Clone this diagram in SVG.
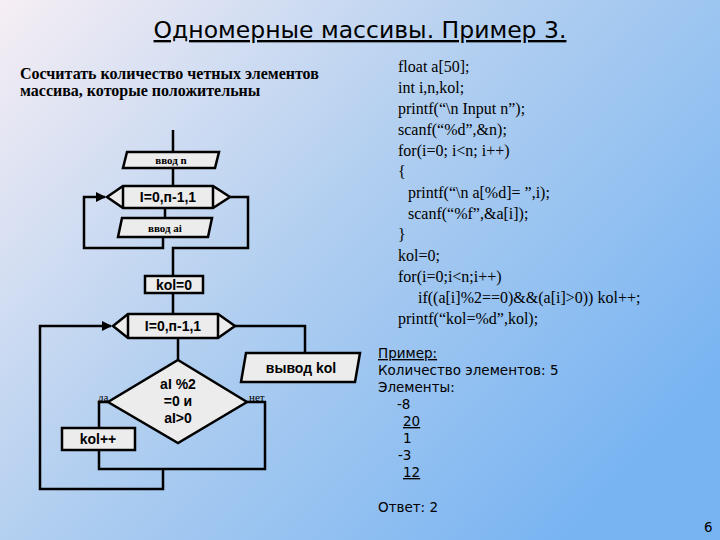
<svg xmlns="http://www.w3.org/2000/svg" width="720" height="540" viewBox="0 0 720 540">
<defs>
<linearGradient id="bg" x1="0" y1="0" x2="1" y2="0.7">
<stop offset="0" stop-color="#f6eef4"/>
<stop offset="0.5" stop-color="#b0cef0"/>
<stop offset="1" stop-color="#78b4f2"/>
</linearGradient>
<marker id="ar" viewBox="0 0 10 10" refX="9" refY="5" markerWidth="4" markerHeight="4" orient="auto"><path d="M0,0 L10,5 L0,10 z" fill="#000"/></marker>
<style>
.n{fill:#ececec;stroke:#000;stroke-width:2.5}
.c{fill:none;stroke:#000;stroke-width:2.5}
.t{font-family:"Liberation Sans",Arial,sans-serif;font-size:14px;font-weight:bold;text-anchor:middle}
.s{font-family:"Liberation Serif",serif;font-size:11px;font-weight:bold;text-anchor:middle}
.code{font-family:"Liberation Serif",serif;font-size:16px}
.ex{font-family:"DejaVu Sans",sans-serif;font-size:13.5px}
</style>
</defs>
<rect width="720" height="540" fill="url(#bg)"/>
<text x="360" y="38" text-anchor="middle" font-family="DejaVu Sans,sans-serif" font-size="23.5" text-decoration="underline">Одномерные массивы. Пример 3.</text>
<text x="20" y="79" font-family="Liberation Serif,serif" font-size="16" font-weight="bold">Сосчитать количество четных элементов</text>
<text x="20" y="96" font-family="Liberation Serif,serif" font-size="16" font-weight="bold">массива, которые положительны</text>
<g id="connectors">
<path class="c" d="M173,130 V152 M173,168 V186 M165,208 V218 M163,237 V248 H84 V197 H105" marker-end="url(#ar)"/>
<path class="c" d="M230,197 H248 V248 H173 V276 M173,293 V314"/>
<path class="c" d="M178,338 V360 M235,326 H305 V353"/>
<path class="c" d="M108,402 H99 V428 M99,450 V469 H265 V402 H247 M163,469 V489 H40 V326 H111" marker-end="url(#ar)"/>
</g>
<g id="input-n"><polygon class="n" points="127,152 219,152 215,168 123,168"/><text class="s" x="171" y="164">ввод  n</text></g>
<g id="loop1"><polygon class="n" points="107,197 123,186 213,186 230,197 213,208 123,208"/><path class="c" d="M123,186 V208 M213,186 V208"/><text class="t" x="168" y="202">I=0,п-1,1</text></g>
<g id="input-ai"><polygon class="n" points="122,218 212,218 208,237 118,237"/><text class="s" x="165" y="232">ввод ai</text></g>
<g id="kol0"><rect class="n" x="145" y="276" width="58" height="17"/><text class="t" x="174" y="290">kol=0</text></g>
<g id="loop2"><polygon class="n" points="113,326 128,314 218,314 235,326 218,338 128,338"/><path class="c" d="M128,314 V338 M218,314 V338"/><text class="t" x="173" y="331">I=0,п-1,1</text></g>
<g id="output"><polygon class="n" points="246,353 360,353 355,382 241,382"/><text class="t" x="301" y="373">вывод kol</text></g>
<g id="cond"><polygon class="n" points="178,360 247,402 178,443 108,402"/><text class="t" x="178" y="389">aI %2</text><text class="t" x="178" y="406">=0 и</text><text class="t" x="178" y="423">aI&gt;0</text></g>
<text x="98" y="401" font-family="Liberation Serif,serif" font-size="11">да</text>
<text x="249" y="401" font-family="Liberation Serif,serif" font-size="11">нет</text>
<g id="kolpp"><rect class="n" x="62" y="428" width="73" height="22"/><text class="t" x="98" y="444">kol++</text></g>
<g class="code">
<text x="398" y="72">float a[50];</text>
<text x="398" y="93">int i,n,kol;</text>
<text x="398" y="114">printf(“\n Input n”);</text>
<text x="398" y="135">scanf(“%d”,&amp;n);</text>
<text x="398" y="156">for(i=0; i&lt;n; i++)</text>
<text x="398" y="177">{</text>
<text x="408" y="198">printf(“\n a[%d]= ”,i);</text>
<text x="408" y="219">scanf(“%f”,&amp;a[i]);</text>
<text x="398" y="240">}</text>
<text x="398" y="261">kol=0;</text>
<text x="398" y="282">for(i=0;i&lt;n;i++)</text>
<text x="418" y="303">if((a[i]%2==0)&amp;&amp;(a[i]&gt;0)) kol++;</text>
<text x="398" y="324">printf(“kol=%d”,kol);</text>
</g>
<g class="ex">
<text x="378" y="358" text-decoration="underline">Пример:</text>
<text x="378" y="375">Количество элементов: 5</text>
<text x="378" y="392">Элементы:</text>
<text x="397" y="409">-8</text>
<text x="403" y="426" text-decoration="underline">20</text>
<text x="403" y="443">1</text>
<text x="398" y="460">-3</text>
<text x="403" y="477" text-decoration="underline">12 </text>
<text x="378" y="512">Ответ: 2</text>
<text x="704" y="532">6</text>
</g>
</svg>
